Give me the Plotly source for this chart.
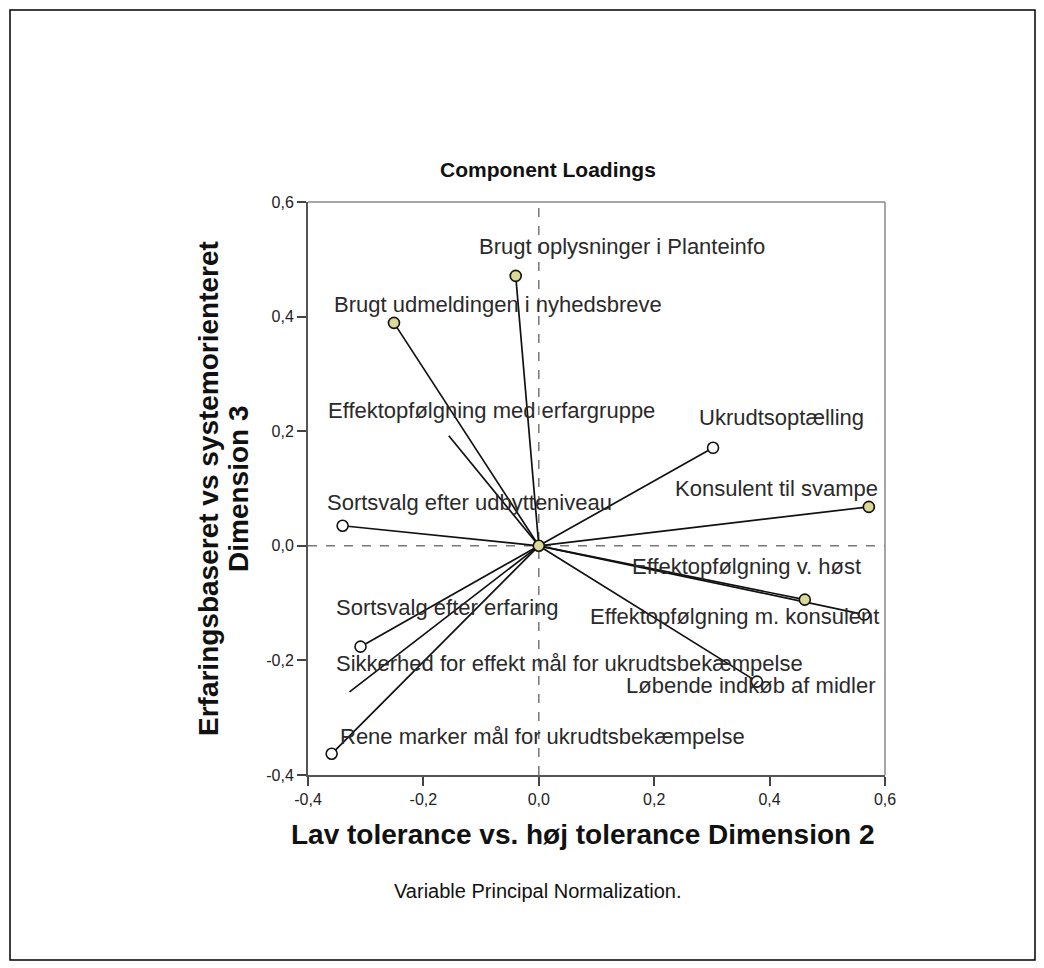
import plotly.graph_objects as go

# ---- data ----
variables = [
    "Brugt oplysninger i Planteinfo",
    "Brugt udmeldingen i nyhedsbreve",
    "Effektopfølgning med erfargruppe",
    "Ukrudtsoptælling",
    "Konsulent til svampe",
    "Sortsvalg efter udbytteniveau",
    "Effektopfølgning v. høst",
    "Effektopfølgning m. konsulent",
    "Løbende indkøb af midler",
    "Sortsvalg efter erfaring",
    "Sikkerhed for effekt mål for ukrudtsbekæmpelse",
    "Rene marker mål for ukrudtsbekæmpelse",
]
dim2 = [-0.040, -0.251, -0.156, 0.302, 0.572, -0.340, 0.461, 0.564, 0.378, -0.309, -0.328, -0.359]
dim3 = [0.471, 0.389, 0.192, 0.171, 0.068, 0.035, -0.094, -0.120, -0.237, -0.176, -0.255, -0.363]
marker_kind = ["filled", "filled", "none", "open", "filled", "open",
               "filled", "open", "open", "open", "none", "open"]
tick_values = [-0.4, -0.2, 0.0, 0.2, 0.4, 0.6]
tick_labels = ["-0,4", "-0,2", "0,0", "0,2", "0,4", "0,6"]

# ---- label offsets (pixels, style only) ----
label_shift = [(106, 29), (104, 18), (43, 25), (68, 30), (-92, 18), (127, 23),
               (-58, 33), (-130, -2), (-6, -4), (87, 39), (220, 28), (211, 17)]

FONT = "Liberation Sans, Arial"
FILL = "#dcd898"

# plot area in figure pixels
L, R, T, B = 300, 877, 194, 767
W, H = R - L, B - T


def px(xs):  # screen x -> paper
    return (xs - 8 - L) / W


def py(ys):  # screen y -> paper
    return (B - (ys - 8)) / H


fig = go.Figure()

for x, y in zip(dim2, dim3):
    fig.add_trace(go.Scatter(x=[0, x], y=[0, y], mode="lines",
                             line=dict(color="#111111", width=1.7),
                             hoverinfo="skip", showlegend=False))

fx = [x for x, k in zip(dim2, marker_kind) if k == "filled"] + [0]
fy = [y for y, k in zip(dim3, marker_kind) if k == "filled"] + [0]
ox = [x for x, k in zip(dim2, marker_kind) if k == "open"]
oy = [y for y, k in zip(dim3, marker_kind) if k == "open"]
fig.add_trace(go.Scatter(x=fx, y=fy, mode="markers",
                         marker=dict(size=11, color=FILL, line=dict(color="#111111", width=1.6)),
                         showlegend=False))
fig.add_trace(go.Scatter(x=ox, y=oy, mode="markers",
                         marker=dict(size=11, color="white", line=dict(color="#111111", width=1.6)),
                         showlegend=False))

for name, x, y, (dx, dy) in zip(variables, dim2, dim3, label_shift):
    fig.add_annotation(x=x, y=y, text=name, showarrow=False, xshift=dx, yshift=dy,
                       xanchor="center", yanchor="middle",
                       font=dict(family=FONT, size=22, color="#2a2a2a"))

axis_common = dict(showgrid=False, zeroline=False, ticks="outside", ticklen=9,
                   tickcolor="#444444", tickwidth=2, tickvals=tick_values,
                   ticktext=tick_labels, showline=True, linecolor="#555555",
                   linewidth=2, mirror=False,
                   tickfont=dict(family=FONT, size=16, color="#222222"))

fig.update_layout(
    width=1044, height=968,
    margin=dict(l=L, r=1044 - R, t=T, b=968 - B),
    paper_bgcolor="white", plot_bgcolor="white",
    xaxis=dict(range=[-0.4, 0.6], **axis_common),
    yaxis=dict(range=[-0.4, 0.6], **axis_common),
    showlegend=False,
)

fig.add_shape(type="line", xref="x", yref="y", x0=0, x1=0, y0=-0.4, y1=0.6,
              line=dict(color="#777777", width=1.5, dash="dash"), layer="below")
fig.add_shape(type="line", xref="x", yref="y", x0=-0.4, x1=0.6, y0=0, y1=0,
              line=dict(color="#777777", width=1.5, dash="dash"), layer="below")
fig.add_shape(type="line", xref="paper", yref="paper", x0=0, x1=1, y0=1, y1=1,
              line=dict(color="#888888", width=1.5))
fig.add_shape(type="line", xref="paper", yref="paper", x0=1, x1=1, y0=0, y1=1,
              line=dict(color="#888888", width=1.5))

# outer border
fig.add_shape(type="rect", xref="paper", yref="paper",
              x0=px(10), x1=px(1035), y0=py(960), y1=py(10),
              line=dict(color="black", width=1.5))


def note(text, xs, ys, size, angle=0):
    fig.add_annotation(xref="paper", yref="paper", x=px(xs), y=py(ys), text=text,
                       showarrow=False, xanchor="center", yanchor="middle",
                       textangle=angle,
                       font=dict(family=FONT, size=size, color="#111111"))


note("<b>Component Loadings</b>", 548, 169, 21)
note("<b>Lav tolerance vs. høj tolerance Dimension 2</b>", 583, 835, 28)
note("<b>Erfaringsbaseret vs systemorienteret</b>", 208, 489, 28, -90)
note("<b>Dimension 3</b>", 238, 489, 28, -90)
note("Variable Principal Normalization.", 538, 891, 20)

fig.write_html("out.html")
